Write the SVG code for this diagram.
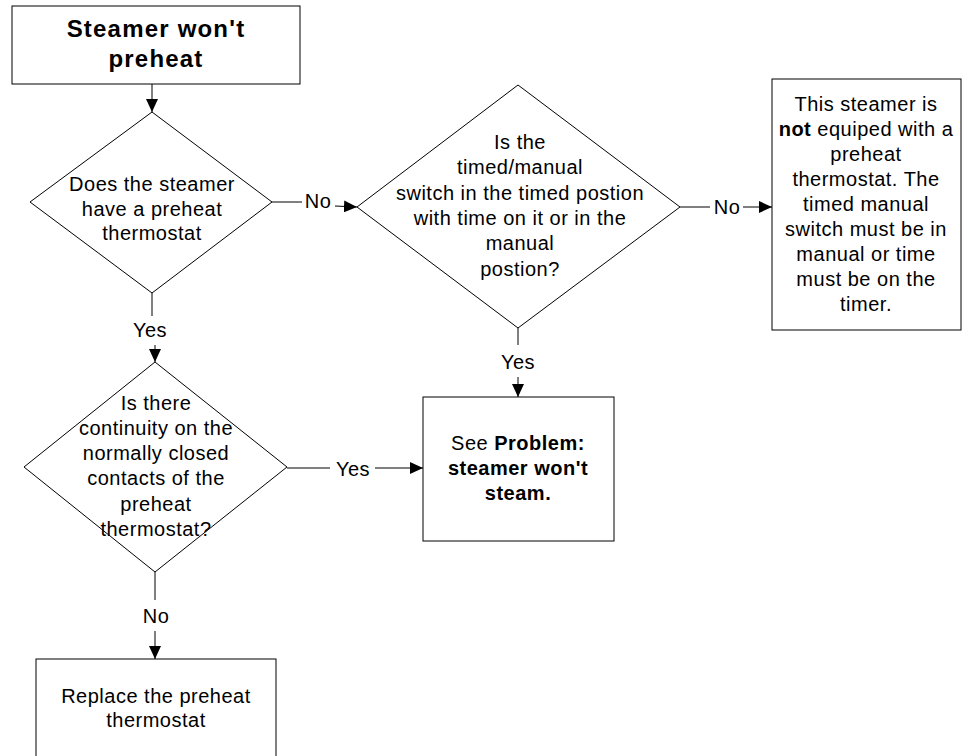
<svg xmlns="http://www.w3.org/2000/svg" width="968" height="756" viewBox="0 0 968 756">
<style>
.shape{fill:#fff;stroke:#000;stroke-width:1}
.t{font-family:"Liberation Sans",Arial,sans-serif;font-size:20px;letter-spacing:0.5px;text-anchor:middle;fill:#000}
.title{font-size:24px;font-weight:bold;letter-spacing:1.2px}
.b{font-weight:bold}
.c{fill:none;stroke:#000;stroke-width:1}
</style>
<defs>
<marker id="ah" markerWidth="14" markerHeight="12" refX="13" refY="6" orient="auto" markerUnits="userSpaceOnUse">
<path d="M0,0 L13,6 L0,12 Z" fill="#000"/>
</marker>
</defs>
<rect width="968" height="756" fill="#fff"/>
<g id="connectors">
<line class="c" x1="152" y1="84" x2="152" y2="112" marker-end="url(#ah)"/>
<line class="c" x1="272" y1="202" x2="302" y2="202"/>
<line class="c" x1="335" y1="206" x2="357" y2="207" marker-end="url(#ah)"/>
<line class="c" x1="680" y1="207" x2="710" y2="207"/>
<line class="c" x1="743" y1="207" x2="772" y2="207" marker-end="url(#ah)"/>
<line class="c" x1="152" y1="293" x2="152" y2="316"/>
<line class="c" x1="155" y1="345" x2="155" y2="362" marker-end="url(#ah)"/>
<line class="c" x1="518" y1="328" x2="518" y2="345"/>
<line class="c" x1="518" y1="377" x2="518" y2="397" marker-end="url(#ah)"/>
<line class="c" x1="287" y1="468" x2="330" y2="468"/>
<line class="c" x1="375" y1="468" x2="423" y2="468" marker-end="url(#ah)"/>
<line class="c" x1="155" y1="572" x2="155" y2="600"/>
<line class="c" x1="155" y1="631" x2="155" y2="659" marker-end="url(#ah)"/>
<text class="t" x="318" y="208">No</text>
<text class="t" x="727" y="214">No</text>
<text class="t" x="150" y="337">Yes</text>
<text class="t" x="518" y="369">Yes</text>
<text class="t" x="353" y="476">Yes</text>
<text class="t" x="156" y="623">No</text>
</g>
<g id="start">
<rect class="shape" x="12" y="6" width="288" height="78"/>
<text class="t title" x="156" y="37">Steamer won't</text>
<text class="t title" x="156" y="67">preheat</text>
</g>
<g id="q1">
<polygon class="shape" points="152,112 272,202 152,293 30,202"/>
<text class="t" x="152" y="191">Does the steamer</text>
<text class="t" x="152" y="215.5">have a preheat</text>
<text class="t" x="152" y="240">thermostat</text>
</g>
<g id="q2">
<polygon class="shape" points="518,85 680,207 518,328 357,207"/>
<text class="t" x="520" y="149">Is the</text>
<text class="t" x="520" y="174.3">timed/manual</text>
<text class="t" x="520" y="199.6">switch in the timed postion</text>
<text class="t" x="520" y="224.9">with time on it or in the</text>
<text class="t" x="520" y="250.2">manual</text>
<text class="t" x="520" y="275.5">postion?</text>
</g>
<g id="noThermostat">
<rect class="shape" x="772" y="79" width="189" height="251"/>
<text class="t" x="866" y="111">This steamer is</text>
<text class="t" x="866" y="136"><tspan class="b">not</tspan> equiped with a</text>
<text class="t" x="866" y="161">preheat</text>
<text class="t" x="866" y="186">thermostat. The</text>
<text class="t" x="866" y="211">timed manual</text>
<text class="t" x="866" y="236">switch must be in</text>
<text class="t" x="866" y="261">manual or time</text>
<text class="t" x="866" y="286">must be on the</text>
<text class="t" x="866" y="311">timer.</text>
</g>
<g id="q3">
<polygon class="shape" points="155,362 287,467 155,572 24,467"/>
<text class="t" x="156" y="410">Is there</text>
<text class="t" x="156" y="435">continuity on the</text>
<text class="t" x="156" y="460">normally closed</text>
<text class="t" x="156" y="485">contacts of the</text>
<text class="t" x="156" y="511">preheat</text>
<text class="t" x="156" y="536">thermostat?</text>
</g>
<g id="seeProblem">
<rect class="shape" x="423" y="397" width="191" height="144"/>
<text class="t" x="518" y="450">See <tspan class="b">Problem:</tspan></text>
<text class="t b" x="518" y="475">steamer won't</text>
<text class="t b" x="518" y="500">steam.</text>
</g>
<g id="replace">
<rect class="shape" x="36" y="659" width="240" height="110"/>
<text class="t" x="156" y="703">Replace the preheat</text>
<text class="t" x="156" y="727">thermostat</text>
</g>
</svg>
